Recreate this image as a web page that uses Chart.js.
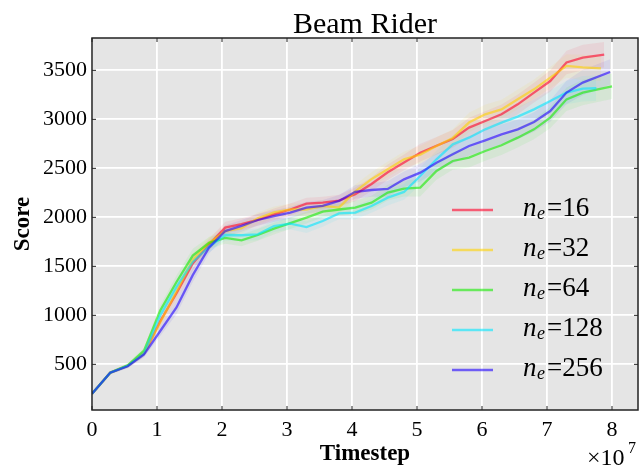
<!DOCTYPE html>
<html>
<head>
<meta charset="utf-8">
<script src="https://cdn.jsdelivr.net/npm/chart.js@4.4.1/dist/chart.umd.min.js"></script>
<style>
  html, body { margin: 0; padding: 0; background: #fff; }
  #wrap { width: 641px; height: 468px; }
</style>
</head>
<body>
<div id="wrap"><canvas id="beamChart" width="641" height="468"></canvas></div>
<script>
// Beam Rider score vs timestep (x in units of 1e7)
const steps = [0, 0.28, 0.55, 0.8, 1.05, 1.3, 1.55, 1.8, 2.05, 2.3, 2.55, 2.8, 3.05, 3.3, 3.55, 3.8,
  4.05, 4.3, 4.55, 4.8, 5.05, 5.3, 5.55, 5.8, 6.05, 6.3, 6.55, 6.8, 7.05, 7.3, 7.55, 7.85];
const endSteps = [7.88, 7.83, 8.0, 7.76, 7.97];

const labels = ['16', '32', '64', '128', '256'];
const xTicks = [0, 1, 2, 3, 4, 5, 6, 7, 8];
const yTicks = [500, 1000, 1500, 2000, 2500, 3000, 3500];

const score16 = [200, 415, 485, 610, 940, 1225, 1530, 1720, 1895, 1930, 1975, 2030, 2080, 2140, 2150, 2170,
  2235, 2340, 2460, 2560, 2660, 2730, 2800, 2916, 2983, 3051, 3153, 3273, 3391, 3580, 3630, 3660];
const score32 = [200, 415, 485, 610, 930, 1240, 1565, 1740, 1860, 1890, 1990, 2050, 2080, 2080, 2116, 2100,
  2265, 2390, 2490, 2592, 2640, 2728, 2810, 2967, 3051, 3101, 3204, 3306, 3426, 3545, 3530, 3521];
const score64 = [200, 415, 490, 640, 1050, 1340, 1610, 1740, 1790, 1765, 1820, 1885, 1940, 1997, 2058, 2080,
  2100, 2150, 2252, 2293, 2303, 2473, 2575, 2609, 2677, 2735, 2813, 2898, 3018, 3204, 3273, 3337];
const score128 = [200, 415, 485, 610, 1000, 1290, 1545, 1700, 1820, 1817, 1827, 1911, 1935, 1900, 1963, 2040,
  2048, 2116, 2201, 2259, 2422, 2592, 2745, 2813, 2898, 2967, 3028, 3102, 3187, 3273, 3313, 3317];
const score256 = [200, 415, 480, 600, 840, 1080, 1410, 1690, 1860, 1913, 1973, 2013, 2049, 2100, 2116, 2167,
  2260, 2279, 2290, 2388, 2456, 2558, 2643, 2728, 2786, 2847, 2898, 2973, 3085, 3273, 3375, 3483];

// half width of the shaded band around each curve
const spread = [10, 15, 20, 30, 50, 70, 70, 60, 60, 60, 60, 60, 60, 60, 60, 60,
  70, 70, 80, 80, 90, 90, 90, 100, 100, 100, 100, 100, 110, 120, 130, 130];

const allScores = [score16, score32, score64, score128, score256];
const rgb = ['255,0,40', '255,210,0', '20,235,0', '0,230,255', '30,0,255'];

function pts(scores, endStep, off) {
  return scores.map((v, i) => ({
    x: i === scores.length - 1 ? endStep : steps[i],
    y: v + off * spread[i]
  }));
}

const datasets = [];
allScores.forEach((s, k) => {
  datasets.push({
    label: 'lo' + k, data: pts(s, endSteps[k], -1), borderWidth: 0, pointRadius: 0,
    fill: false, order: 10
  });
  datasets.push({
    label: 'hi' + k, data: pts(s, endSteps[k], 1), borderWidth: 0, pointRadius: 0,
    fill: '-1', backgroundColor: 'rgba(' + rgb[k] + ',0.07)', order: 10
  });
});
allScores.forEach((s, k) => {
  datasets.push({
    label: labels[k], data: pts(s, endSteps[k], 0),
    borderColor: 'rgba(' + rgb[k] + ',0.6)', borderWidth: 2.3,
    pointRadius: 0, fill: false, tension: 0, order: 5 - k, isMain: true
  });
});

const serif = '"Liberation Serif", "DejaVu Serif", serif';

const framePlugin = {
  id: 'frame',
  beforeDraw(chart) {
    const {ctx, chartArea: a} = chart;
    ctx.save();
    ctx.fillStyle = '#e5e5e5';
    ctx.fillRect(a.left, a.top, a.right - a.left, a.bottom - a.top);
    ctx.restore();
  },
  afterDraw(chart) {
    const {ctx, chartArea: a, scales} = chart;
    ctx.save();
    ctx.strokeStyle = '#222';
    ctx.lineWidth = 1.5;
    ctx.strokeRect(a.left, a.top, a.right - a.left, a.bottom - a.top);
    ctx.lineWidth = 1;
    ctx.beginPath();
    scales.x.ticks.forEach(t => {
      const px = scales.x.getPixelForValue(t.value);
      ctx.moveTo(px, a.top); ctx.lineTo(px, a.top + 4);
      ctx.moveTo(px, a.bottom); ctx.lineTo(px, a.bottom - 4);
    });
    scales.y.ticks.forEach(t => {
      const py = scales.y.getPixelForValue(t.value);
      ctx.moveTo(a.left, py); ctx.lineTo(a.left + 4, py);
      ctx.moveTo(a.right, py); ctx.lineTo(a.right - 4, py);
    });
    ctx.stroke();

    // title
    ctx.fillStyle = '#000';
    ctx.textAlign = 'center';
    ctx.textBaseline = 'alphabetic';
    ctx.font = '30px ' + serif;
    ctx.fillText('Beam Rider', (a.left + a.right) / 2, 33);

    // legend
    const mains = chart.data.datasets.filter(d => d.isMain);
    mains.forEach((d, i) => {
      const y = a.top + 172 + i * 40;
      ctx.strokeStyle = d.borderColor;
      ctx.lineWidth = 2.5;
      ctx.beginPath();
      ctx.moveTo(a.right - 186, y); ctx.lineTo(a.right - 145, y);
      ctx.stroke();
      ctx.fillStyle = '#000';
      ctx.textAlign = 'left';
      ctx.font = 'italic 27px ' + serif;
      ctx.fillText('n', a.right - 115, y + 6);
      ctx.font = 'italic 18px ' + serif;
      ctx.fillText('e', a.right - 101, y + 9);
      ctx.font = '27px ' + serif;
      ctx.fillText('=' + d.label, a.right - 91, y + 6);
    });

    // x multiplier
    ctx.textAlign = 'left';
    ctx.font = '24px ' + serif;
    ctx.fillText('\u00d710', 587, 465);
    ctx.font = '16px ' + serif;
    ctx.fillText('7', 628, 453);
    ctx.restore();
  }
};

new Chart(document.getElementById('beamChart'), {
  type: 'line',
  data: { datasets: datasets },
  options: {
    responsive: false,
    animation: false,
    layout: { padding: { left: 0, right: 3, top: 38, bottom: 0 } },
    plugins: {
      legend: { display: false },
      tooltip: { enabled: false },
      title: { display: false }
    },
    scales: {
      x: {
        type: 'linear',
        min: 0,
        max: 8.4,
        afterFit(scale) { scale.height = 58; },
        afterBuildTicks(scale) { scale.ticks = xTicks.map(v => ({ value: v })); },
        grid: { color: '#fff', lineWidth: 1.8, drawTicks: false },
        border: { display: false },
        ticks: {
          padding: 7,
          color: '#000',
          font: { family: serif, size: 22 },
          maxRotation: 0,
          callback: v => String(v)
        },
        title: {
          display: true,
          text: 'Timestep',
          color: '#000',
          font: { family: serif, size: 23, weight: 'bold', lineHeight: 1.2 },
          padding: { top: 0, bottom: 0 }
        }
      },
      y: {
        min: 34,
        max: 3830,
        afterFit(scale) { scale.width = 92; },
        afterBuildTicks(scale) { scale.ticks = yTicks.map(v => ({ value: v })); },
        grid: { color: '#fff', lineWidth: 1.8, drawTicks: false },
        border: { display: false },
        ticks: {
          padding: 5,
          color: '#000',
          font: { family: serif, size: 22 },
          callback: v => String(v)
        },
        title: {
          display: true,
          text: 'Score',
          color: '#000',
          font: { family: serif, size: 23, weight: 'bold', lineHeight: 1.2 },
          padding: { top: 9, bottom: 0 }
        }
      }
    }
  },
  plugins: [framePlugin]
});
</script>
</body>
</html>
